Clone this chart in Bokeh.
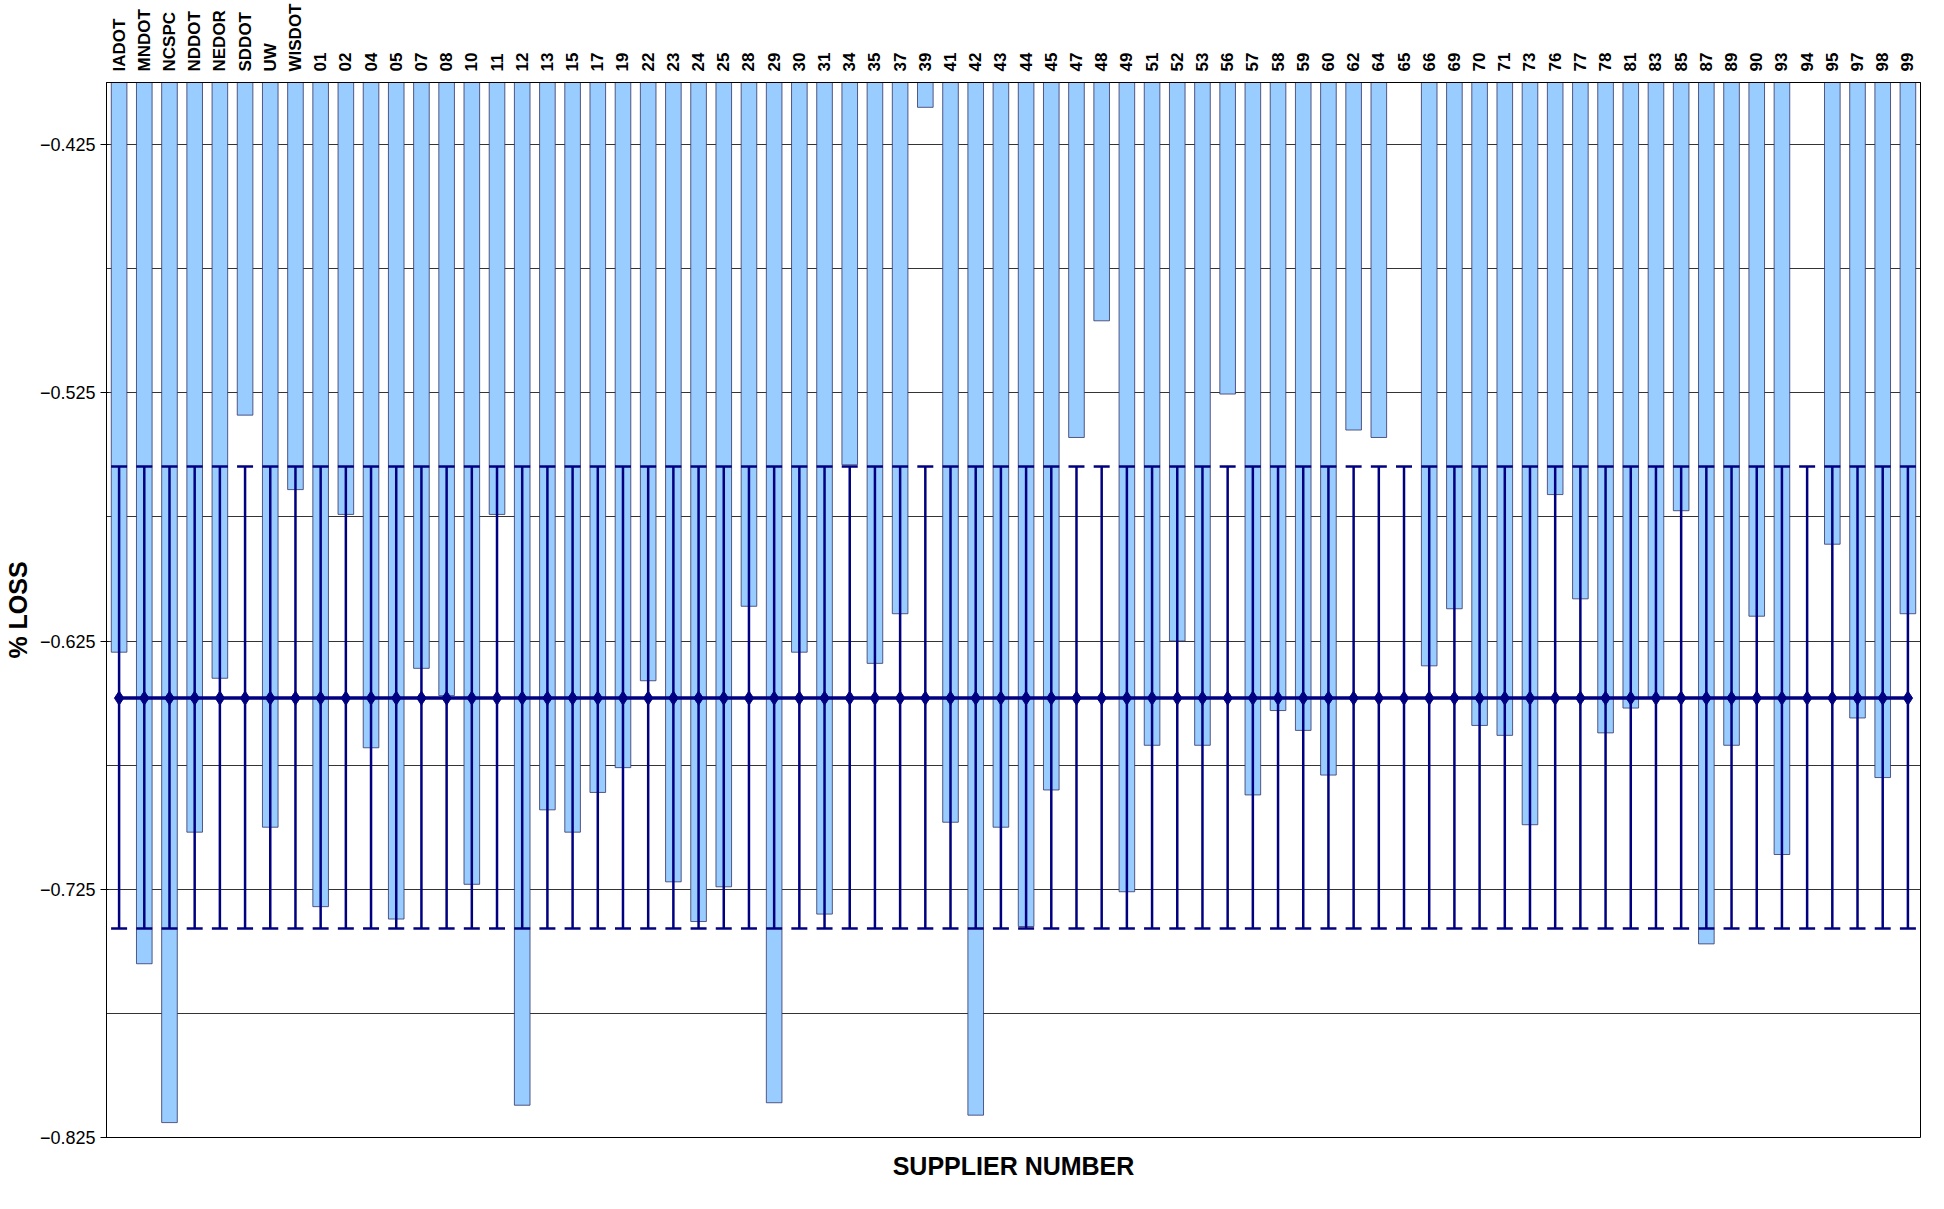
import math
from bokeh.plotting import figure
from bokeh.models import Range1d, FixedTicker, Title, ColumnDataSource
from bokeh.embed import file_html
from bokeh.resources import INLINE

suppliers = ["IADOT","MNDOT","NCSPC","NDDOT","NEDOR","SDDOT","UW","WISDOT",
 "01","02","04","05","07","08","10","11","12","13","15","17","19","22","23","24","25","28","29","30",
 "31","34","35","37","39","41","42","43","44","45","47","48","49","51","52","53","56","57","58","59",
 "60","62","64","65","66","69","70","71","73","76","77","78","81","83","85","87","89","90","93","94",
 "95","97","98","99"]
loss = [-0.6295,-0.755,-0.819,-0.702,-0.640,-0.534,-0.700,-0.564,
 -0.732,-0.574,-0.668,-0.737,-0.636,-0.647,-0.723,-0.574,-0.812,-0.693,-0.702,-0.686,-0.676,-0.641,-0.722,-0.738,-0.724,-0.611,-0.811,-0.6295,
 -0.735,-0.554,-0.634,-0.614,-0.410,-0.698,-0.816,-0.700,-0.740,-0.685,-0.543,-0.496,-0.726,-0.667,-0.625,-0.667,-0.5255,-0.687,-0.653,-0.661,
 -0.679,-0.540,-0.543,float("nan"),-0.635,-0.612,-0.659,-0.663,-0.699,-0.566,-0.608,-0.662,-0.652,-0.648,-0.5725,-0.747,-0.667,-0.615,-0.711,float("nan"),
 -0.586,-0.656,-0.680,-0.614]
grand_mean = -0.648
upper_limit = -0.5547
lower_limit = -0.7408
y_top = -0.4
y_bottom = -0.825

FONT = "Liberation Sans"
src = ColumnDataSource(dict(x=suppliers, v=loss, top=[y_top]*len(suppliers),
    m=[grand_mean]*len(suppliers), up=[upper_limit]*len(suppliers), lo=[lower_limit]*len(suppliers)))

p = figure(x_range=suppliers, y_range=Range1d(y_bottom, y_top), width=1928, height=1192,
           output_backend="svg", toolbar_location=None, x_axis_location="above",
           min_border_left=25, min_border_right=8, min_border_top=4, min_border_bottom=10)
p.outline_line_color="black"
p.vbar(x="x", top="top", bottom="v", width=0.62, source=src,
       fill_color="#99ccff", line_color="#333366", line_width=0.8)
p.segment(x0="x", y0="lo", x1="x", y1="up", source=src, line_color="#000080", line_width=2.5)
p.scatter(x="x", y="up", source=src, marker="dash", size=16, line_color="#000080", line_width=2.5)
p.scatter(x="x", y="lo", source=src, marker="dash", size=16, line_color="#000080", line_width=2.5)
p.line(x="x", y="m", source=src, line_color="#000080", line_width=3.5)
p.scatter(x="x", y="m", source=src, marker="diamond", size=14, fill_color="#000080", line_color="#000080")

p.xgrid.visible=False
p.ygrid.ticker = FixedTicker(ticks=[-0.425,-0.475,-0.525,-0.575,-0.625,-0.675,-0.725,-0.775,-0.825])
p.ygrid.grid_line_color="black"; p.ygrid.grid_line_width=0.8
p.yaxis.ticker = FixedTicker(ticks=[-0.425,-0.525,-0.625,-0.725,-0.825])
p.yaxis.minor_tick_line_color=None
p.yaxis.major_label_text_font=FONT; p.yaxis.major_label_text_font_size="18px"
p.yaxis.major_label_text_color="black"
p.yaxis.axis_label="% LOSS"; p.yaxis.axis_label_text_font=FONT
p.yaxis.axis_label_text_font_style="bold"; p.yaxis.axis_label_text_font_size="25px"
p.yaxis.axis_label_text_color="black"
p.xaxis.major_label_orientation=math.pi/2
p.xaxis.major_label_text_font=FONT; p.xaxis.major_label_text_font_style="bold"
p.xaxis.major_label_text_font_size="17px"; p.xaxis.major_label_text_color="black"
p.xaxis.major_tick_line_color=None
p.add_layout(Title(text="SUPPLIER NUMBER", align="center", text_font=FONT,
                   text_font_size="25px", text_font_style="bold", text_color="black",
                   offset=0, standoff=25), "below")
open("out.html","w").write(file_html(p, INLINE))
